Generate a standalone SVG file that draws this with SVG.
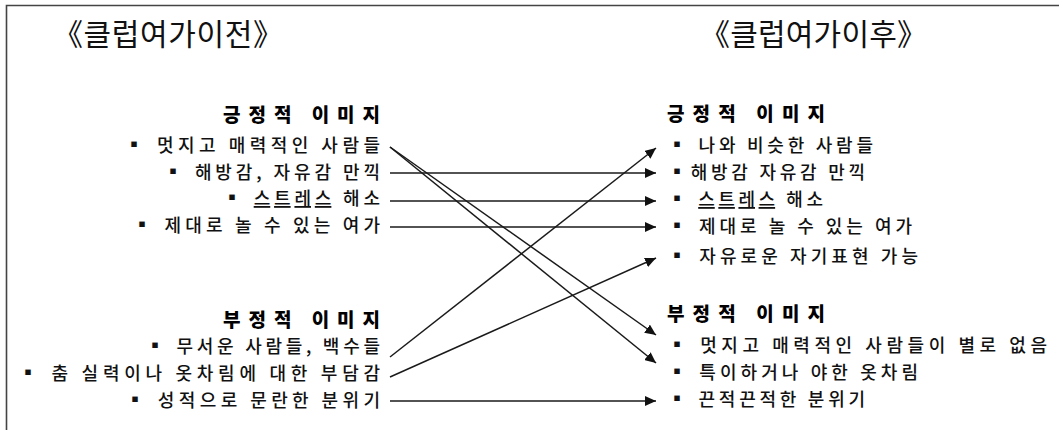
<svg xmlns="http://www.w3.org/2000/svg" width="1059" height="430" viewBox="0 0 1059 430">
<style>
.t{font-family:"Noto Sans CJK KR","Noto Sans",sans-serif;font-size:18px;font-weight:500;fill:#111;}
.h{font-family:"Noto Sans CJK KR","Noto Sans",sans-serif;font-size:19px;font-weight:900;fill:#000;}
.ttl{font-family:"Noto Sans CJK KR","Noto Sans",sans-serif;font-size:30px;fill:#111;}
.b{font-size:20px;}
.c{stroke:#1a1a1a;stroke-width:1.5;fill:none;marker-end:url(#ah);}
.u{text-decoration:underline;}
</style>
<defs>
<marker id="ah" markerUnits="userSpaceOnUse" markerWidth="12" markerHeight="10" refX="11" refY="5" orient="auto">
<path d="M0,0 L11,5 L0,10 Z" fill="#111"/>
</marker>
</defs>
<g id="frame">
<path d="M6.5,430 L6.5,5.5 L1059,5.5" stroke="#444" stroke-width="1.6" fill="none"/>
</g>
<g id="title-before"><text class="ttl" x="53" y="45" textLength="230" lengthAdjust="spacing">《클럽여가이전》</text></g>
<g id="title-after"><text class="ttl" x="700" y="45" textLength="227" lengthAdjust="spacing">《클럽여가이후》</text></g>

<g id="before-positive">
<text class="h" x="223" y="122" textLength="157" lengthAdjust="spacing">긍정적 이미지</text>
<text class="t" x="124" y="152" textLength="256" lengthAdjust="spacing"><tspan class="b">▪</tspan> 멋지고 매력적인 사람들</text>
<text class="t" x="163" y="179" textLength="217" lengthAdjust="spacing"><tspan class="b">▪</tspan> 해방감, 자유감 만끽</text>
<text class="t" x="222" y="205" textLength="158" lengthAdjust="spacing"><tspan class="b">▪</tspan> <tspan class="u">스트레스</tspan> 해소</text>
<text class="t" x="132" y="232" textLength="248" lengthAdjust="spacing"><tspan class="b">▪</tspan> 제대로 놀 수 있는 여가</text>
</g>
<g id="before-negative">
<text class="h" x="223" y="327" textLength="157" lengthAdjust="spacing">부정적 이미지</text>
<text class="t" x="145" y="353" textLength="235" lengthAdjust="spacing"><tspan class="b">▪</tspan> 무서운 사람들, 백수들</text>
<text class="t" x="18" y="380" textLength="362" lengthAdjust="spacing"><tspan class="b">▪</tspan> 춤 실력이나 옷차림에 대한 부담감</text>
<text class="t" x="125" y="407" textLength="255" lengthAdjust="spacing"><tspan class="b">▪</tspan> 성적으로 문란한 분위기</text>
</g>
<g id="after-positive">
<text class="h" x="667" y="121" textLength="158" lengthAdjust="spacing">긍정적 이미지</text>
<text class="t" x="667" y="152" textLength="206" lengthAdjust="spacing"><tspan class="b">▪</tspan> 나와 비슷한 사람들</text>
<text class="t" x="667" y="179" textLength="198" lengthAdjust="spacing"><tspan class="b">▪</tspan>해방감 자유감 만끽</text>
<text class="t" x="667" y="206" textLength="156" lengthAdjust="spacing"><tspan class="b">▪</tspan> <tspan class="u">스트레스</tspan> 해소</text>
<text class="t" x="667" y="233" textLength="245" lengthAdjust="spacing"><tspan class="b">▪</tspan> 제대로 놀 수 있는 여가</text>
<text class="t" x="667" y="263" textLength="251" lengthAdjust="spacing"><tspan class="b">▪</tspan> 자유로운 자기표현 가능</text>
</g>
<g id="after-negative">
<text class="h" x="667" y="321" textLength="158" lengthAdjust="spacing">부정적 이미지</text>
<text class="t" x="667" y="352" textLength="380" lengthAdjust="spacing"><tspan class="b">▪</tspan> 멋지고 매력적인 사람들이 별로 없음</text>
<text class="t" x="667" y="379" textLength="251" lengthAdjust="spacing"><tspan class="b">▪</tspan> 특이하거나 야한 옷차림</text>
<text class="t" x="667" y="406" textLength="198" lengthAdjust="spacing"><tspan class="b">▪</tspan> 끈적끈적한 분위기</text>
</g>

<g id="connectors">
<line class="c" x1="390" y1="147" x2="656" y2="335"/>
<line class="c" x1="390" y1="147" x2="656" y2="363"/>
<line class="c" x1="390" y1="173" x2="656" y2="173"/>
<line class="c" x1="390" y1="201" x2="656" y2="201"/>
<line class="c" x1="390" y1="227" x2="656" y2="227"/>
<line class="c" x1="390" y1="357" x2="656" y2="148"/>
<line class="c" x1="390" y1="377" x2="656" y2="258"/>
<line class="c" x1="390" y1="401" x2="656" y2="401"/>
</g>
</svg>
